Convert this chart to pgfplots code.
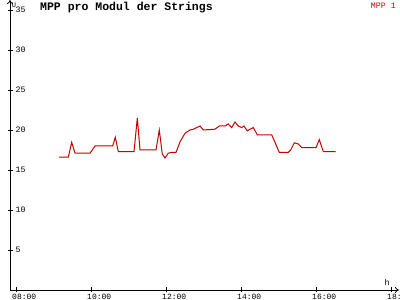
\documentclass[border=0pt]{standalone}
\usepackage{pgfplots}
\pgfplotsset{compat=1.18}
\usetikzlibrary{arrows.meta}
\usepackage{fontspec}
\setmainfont{Liberation Mono}
\setmonofont{Liberation Mono}
\definecolor{mppred}{RGB}{196,0,0}
\pgfplotstableread{
h v
9.147 16.6
9.395 16.6
9.485 18.46
9.573 17.1
9.973 17.1
10.107 18.0
10.579 18.0
10.648 19.1
10.728 17.3
11.147 17.3
11.235 21.5
11.307 17.5
11.733 17.5
11.821 20.0
11.901 17.0
11.973 16.5
12.061 17.1
12.152 17.2
12.267 17.2
12.373 18.5
12.507 19.6
12.640 20.0
12.728 20.1
12.907 20.5
12.995 20.0
13.307 20.1
13.421 20.5
13.573 20.5
13.661 20.75
13.752 20.3
13.840 21.0
13.928 20.5
14.019 20.3
14.080 20.5
14.168 19.9
14.240 20.1
14.328 20.3
14.435 19.4
14.819 19.4
15.021 17.2
15.261 17.2
15.325 17.5
15.421 18.4
15.528 18.25
15.619 17.8
16.000 17.8
16.088 18.8
16.195 17.3
16.525 17.3
}\mppdata
\begin{document}
\begin{tikzpicture}[x=1pt,y=1pt]
\useasboundingbox (0,0) rectangle (400,300);
\begin{axis}[
  at={(10pt,10pt)}, anchor=origin,
  scale only axis, width=389pt, height=290pt,
  xmin=7.84, xmax=18.2133, ymin=0, ymax=36.25,
  axis lines=left,
  axis line style={black, line width=0.8pt, -{To[length=4pt,width=6pt]}},
  tick align=center, major tick length=5pt,
  tick style={black, line width=0.8pt},
  xtick={8,10,12,14,16,18},
  xticklabels={08:00,10:00,12:00,14:00,16:00,18:00},
  ytick={5,10,15,20,25,30,35},
  xticklabel style={anchor=north west, inner sep=0pt, xshift=-4pt, yshift=-1.5pt, font=\fontsize{8}{9}\selectfont},
  yticklabel style={anchor=west, inner sep=0pt, xshift=8pt, font=\fontsize{8.3}{9}\selectfont},
  /pgf/number format/assume math mode=true,
  clip=false,
]
\addplot[mppred, line width=1pt] table[x=h,y=v] {\mppdata};
\end{axis}
\node[anchor=west, inner sep=0pt, font=\bfseries\fontsize{11.5}{12}\selectfont] at (40,292) {MPP pro Modul der Strings};
\node[anchor=east, inner sep=0pt, text=mppred, font=\fontsize{8.3}{9}\selectfont] at (396,294) {MPP 1};
\node[inner sep=0pt, font=\fontsize{8.3}{9}\selectfont] at (387,18) {h};
\node[inner sep=0pt, font=\fontsize{7}{8}\selectfont] at (14,295) {U};
\end{tikzpicture}
\end{document}
